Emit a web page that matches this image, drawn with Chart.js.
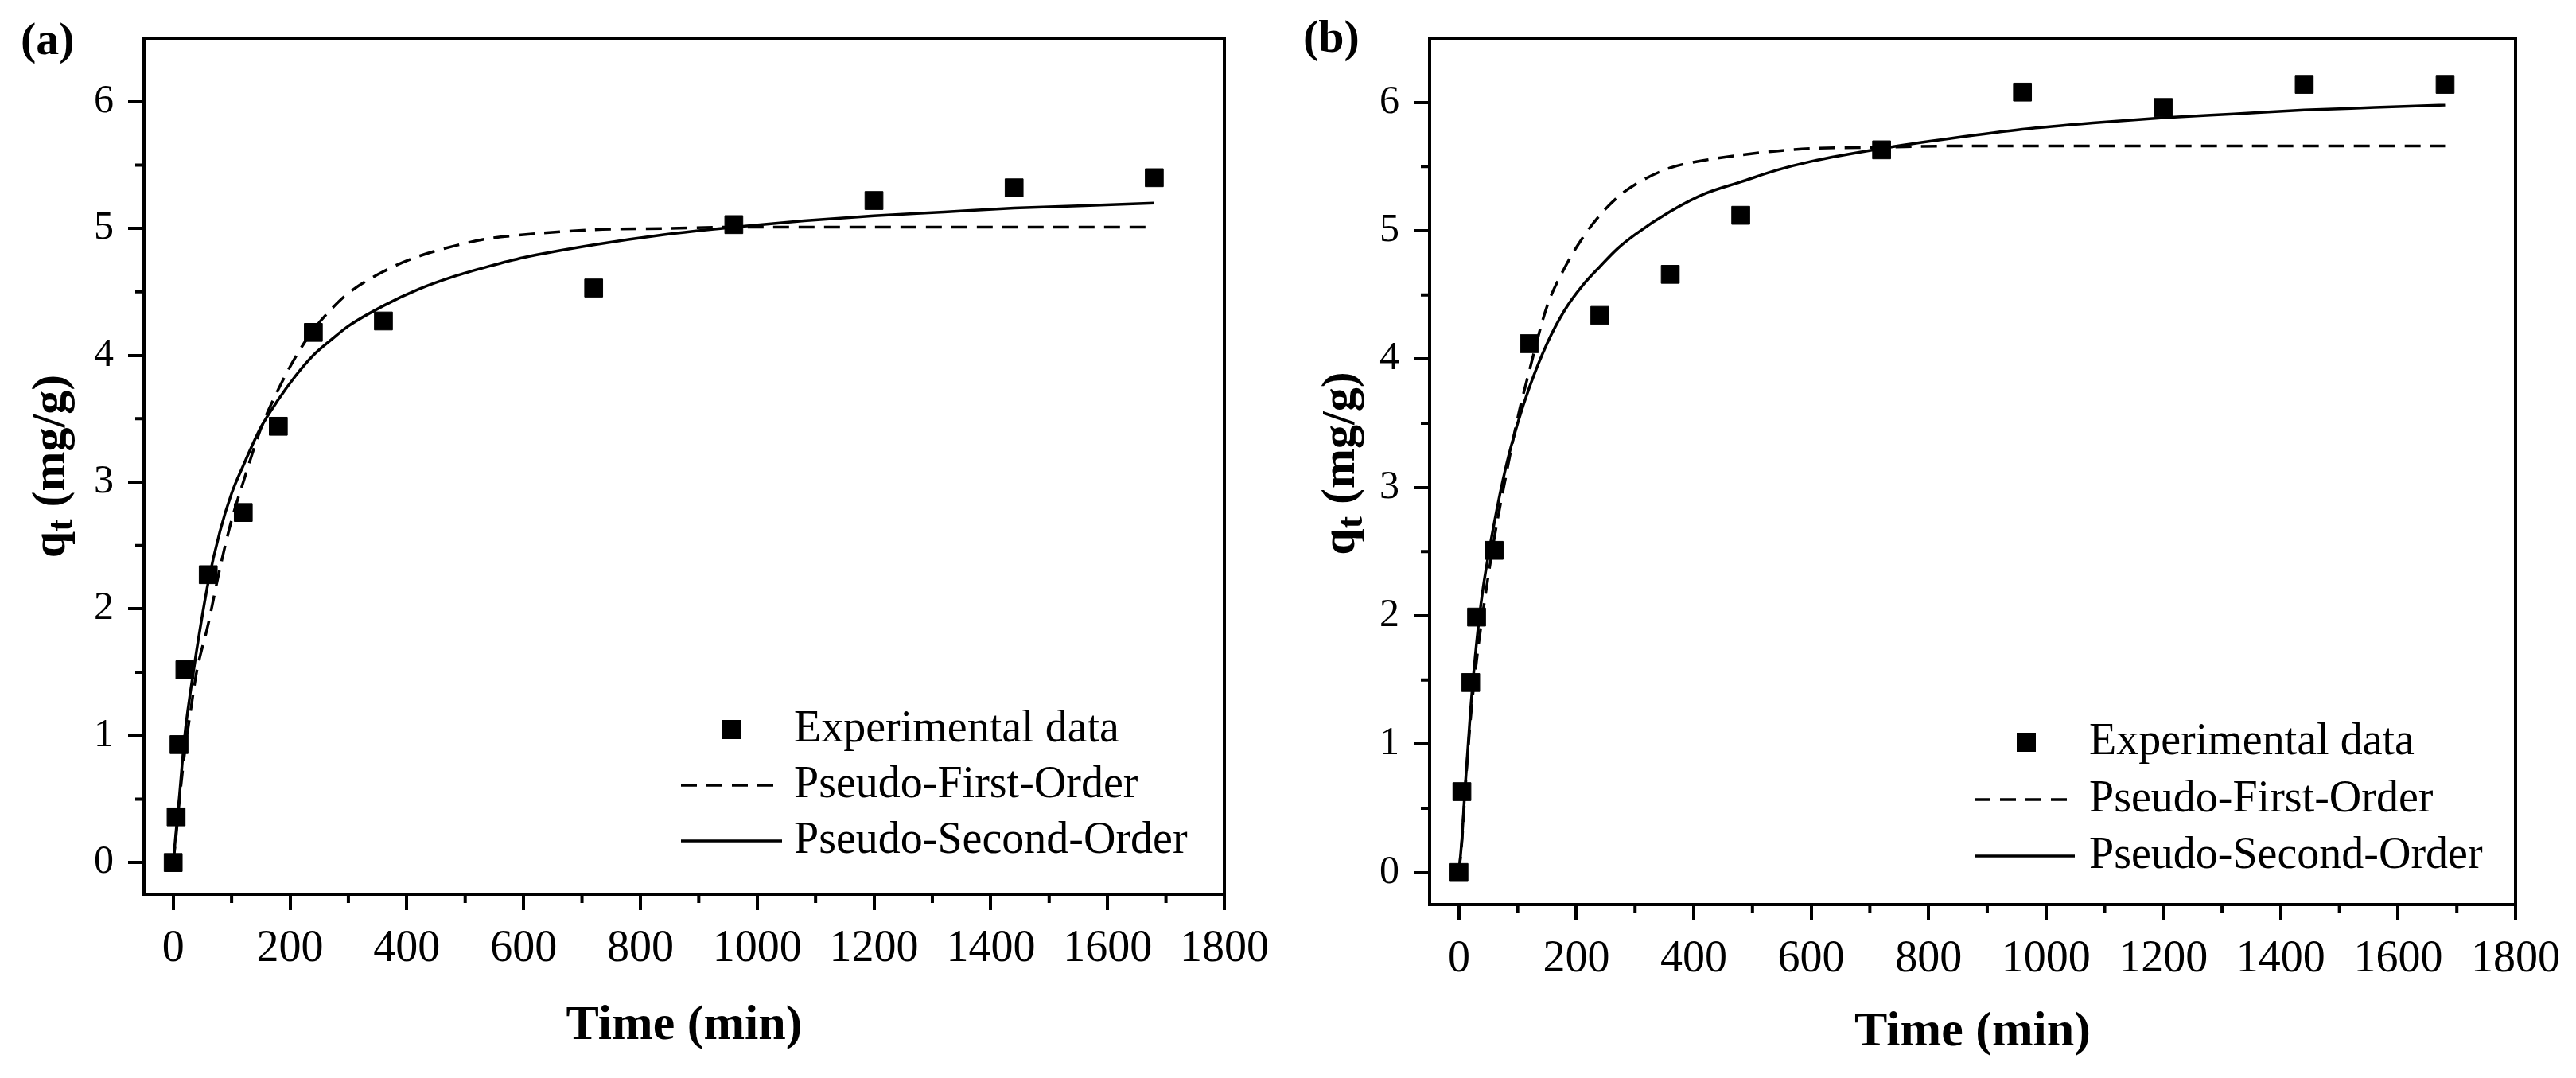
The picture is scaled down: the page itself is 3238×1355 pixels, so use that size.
<!DOCTYPE html>
<html>
<head>
<meta charset="utf-8">
<script src="https://cdn.jsdelivr.net/npm/chart.js@4.4.1/dist/chart.umd.min.js"></script>
<style>
html,body{margin:0;padding:0;background:#fff;}
#wrap{position:relative;width:3238px;height:1355px;overflow:hidden;background:#fff;}
.panel{position:absolute;top:0;height:1355px;}
#pa{left:0;width:1620px;}
#pb{left:1620px;width:1618px;}
</style>
</head>
<body>
<div id="wrap">
  <div class="panel" id="pa"><canvas id="ca"></canvas></div>
  <div class="panel" id="pb"><canvas id="cb"></canvas></div>
</div>
<script>
// ---------- data ----------
const xTickValues = [0, 200, 400, 600, 800, 1000, 1200, 1400, 1600, 1800];
const xMinorValues = [100, 300, 500, 700, 900, 1100, 1300, 1500, 1700];
const yTickValues = [0, 1, 2, 3, 4, 5, 6];
const yMinorValues = [0.5, 1.5, 2.5, 3.5, 4.5, 5.5];

const seriesLabels = ['Experimental data', 'Pseudo-First-Order', 'Pseudo-Second-Order'];

// panel (a)
const timeA = [0, 5, 10, 20, 60, 120, 180, 240, 360, 720, 960, 1200, 1440, 1680];
const qtA   = [0, 0.36, 0.93, 1.52, 2.27, 2.76, 3.44, 4.18, 4.27, 4.53, 5.03, 5.22, 5.32, 5.40];
// panel (b)
const timeB = [0, 5, 20, 30, 60, 120, 240, 360, 480, 720, 960, 1200, 1440, 1680];
const qtB   = [0, 0.63, 1.48, 1.99, 2.51, 4.12, 4.34, 4.66, 5.12, 5.63, 6.08, 5.96, 6.14, 6.14];

// fitted curves
const fitTime = [0, 5, 10, 20, 30, 40, 60, 80, 100, 120, 150, 180, 210, 240, 270, 300, 360, 420, 480, 540, 600, 720, 840, 960, 1080, 1200, 1320, 1440, 1560, 1680];
const pfoA = [0, 0.21, 0.46, 0.88, 1.20, 1.50, 1.88, 2.32, 2.70, 3.00, 3.42, 3.73, 3.99, 4.20, 4.36, 4.49, 4.66, 4.78, 4.86, 4.92, 4.95, 4.99, 5.00, 5.01, 5.01, 5.01, 5.01, 5.01, 5.01, 5.01];
const psoA = [0, 0.25, 0.49, 1.01, 1.36, 1.67, 2.21, 2.61, 2.91, 3.13, 3.43, 3.65, 3.84, 4.00, 4.12, 4.23, 4.39, 4.52, 4.62, 4.70, 4.77, 4.87, 4.95, 5.01, 5.06, 5.10, 5.13, 5.16, 5.18, 5.20];
const pfoB = [0, 0.24, 0.60, 1.21, 1.65, 2.00, 2.60, 3.09, 3.54, 3.91, 4.41, 4.71, 4.94, 5.12, 5.26, 5.36, 5.49, 5.55, 5.59, 5.62, 5.64, 5.65, 5.66, 5.66, 5.66, 5.66, 5.66, 5.66, 5.66, 5.66];
const psoB = [0, 0.26, 0.63, 1.28, 1.79, 2.18, 2.72, 3.16, 3.50, 3.78, 4.12, 4.38, 4.57, 4.72, 4.86, 4.97, 5.15, 5.29, 5.38, 5.47, 5.54, 5.64, 5.72, 5.79, 5.84, 5.88, 5.91, 5.94, 5.96, 5.98];

// ---------- helpers ----------
const SERIF = "'Liberation Serif','Times New Roman',Times,serif";
const toXY = (xs, ys) => xs.map((x, i) => ({x: x, y: ys[i]}));

const decorPlugin = {
  id: 'decor',
  afterDraw(chart, args, o) {
    const ctx = chart.ctx;
    const ca = chart.chartArea;
    const xs = chart.scales.x, ys = chart.scales.y;
    ctx.save();
    // frame top/right
    ctx.strokeStyle = '#000';
    ctx.lineWidth = 4;
    ctx.lineCap = 'square';
    ctx.beginPath();
    ctx.moveTo(ca.left, ca.top);
    ctx.lineTo(ca.right, ca.top);
    ctx.lineTo(ca.right, ca.bottom);
    ctx.stroke();
    // minor ticks
    ctx.lineCap = 'butt';
    ctx.beginPath();
    xMinorValues.forEach(v => {
      const px = xs.getPixelForValue(v);
      ctx.moveTo(px, ca.bottom); ctx.lineTo(px, ca.bottom + 11);
    });
    yMinorValues.forEach(v => {
      const py = ys.getPixelForValue(v);
      ctx.moveTo(ca.left, py); ctx.lineTo(ca.left - 11, py);
    });
    ctx.stroke();

    // y title with subscript
    ctx.fillStyle = '#000';
    ctx.translate(o.yTitleX, (ca.top + ca.bottom) / 2 + o.yTitleDY);
    ctx.rotate(-Math.PI / 2);
    const f1 = "bold 60px " + SERIF, f2 = "bold 46px " + SERIF;
    ctx.font = f1; const wq = ctx.measureText('q').width;
    ctx.font = f2; const wt = ctx.measureText('t').width;
    ctx.font = f1; const wr = ctx.measureText(' (mg/g)').width;
    let sx = -(wq + wt + wr) / 2;
    ctx.textBaseline = 'alphabetic';
    ctx.textAlign = 'left';
    const base = 20;
    ctx.font = f1; ctx.fillText('q', sx, base); sx += wq;
    ctx.font = f2; ctx.fillText('t', sx, base + 10); sx += wt;
    ctx.font = f1; ctx.fillText(' (mg/g)', sx, base);
    ctx.restore();

    // panel label
    ctx.save();
    ctx.fillStyle = '#000';
    ctx.font = "bold 58px " + SERIF;
    ctx.textBaseline = 'middle';
    ctx.textAlign = 'left';
    ctx.fillText(o.panel, o.panelX, o.panelY);

    // legend
    const ds = chart.data.datasets;
    ctx.font = "56px " + SERIF;
    o.rows.forEach((ry, i) => {
      const d = ds[i];
      if (i === 0) {
        ctx.fillStyle = '#000';
        ctx.fillRect(o.markX - 12, ry - 12, 24, 24);
      } else {
        ctx.strokeStyle = '#000';
        ctx.lineWidth = d.borderWidth;
        ctx.setLineDash(d.borderDash || []);
        ctx.beginPath();
        ctx.moveTo(o.lineX1, ry); ctx.lineTo(o.lineX2, ry);
        ctx.stroke();
        ctx.setLineDash([]);
      }
      ctx.fillStyle = '#000';
      ctx.fillText(d.label, o.textX, ry);
    });
    ctx.restore();
  }
};

function makeChart(canvasId, tData, qData, pfo, pso, L) {
  return new Chart(document.getElementById(canvasId), {
    type: 'scatter',
    data: {
      datasets: [
        {
          label: seriesLabels[0],
          data: toXY(tData, qData),
          pointStyle: 'rect',
          pointRadius: 16,
          pointHoverRadius: 16,
          backgroundColor: '#000',
          borderColor: '#000',
          borderWidth: 1,
          showLine: false,
          order: 0
        },
        {
          label: seriesLabels[1],
          data: toXY(fitTime, pfo),
          showLine: true,
          pointRadius: 0,
          borderColor: '#000',
          borderWidth: 3.5,
          borderDash: [20, 12],
          cubicInterpolationMode: 'monotone',
          fill: false,
          order: 1
        },
        {
          label: seriesLabels[2],
          data: toXY(fitTime, pso),
          showLine: true,
          pointRadius: 0,
          borderColor: '#000',
          borderWidth: 3.5,
          cubicInterpolationMode: 'monotone',
          fill: false,
          order: 2
        }
      ]
    },
    options: {
      responsive: true,
      maintainAspectRatio: false,
      animation: false,
      events: [],
      layout: { padding: { top: L.top, right: L.right, left: 0, bottom: 0 } },
      plugins: {
        legend: { display: false },
        tooltip: { enabled: false },
        title: { display: false },
        decor: L.decor
      },
      scales: {
        x: {
          type: 'linear',
          min: -50, max: 1800,
          afterBuildTicks: s => { s.ticks = xTickValues.map(v => ({value: v})); },
          afterFit: s => { s.height = L.xH; },
          ticks: {
            font: { family: SERIF, size: 56 },
            color: '#000',
            padding: L.xPad,
            maxRotation: 0,
            autoSkip: false,
            callback: v => String(v)
          },
          grid: {
            display: true, drawOnChartArea: false, drawTicks: true,
            tickLength: 20, tickWidth: 4, tickColor: '#000', color: '#000', lineWidth: 4
          },
          border: { display: true, color: '#000', width: 4 },
          title: {
            display: true, text: 'Time (min)', color: '#000',
            font: { family: SERIF, size: 62, weight: 'bold' },
            padding: { top: 0, bottom: L.titlePad }
          }
        },
        y: {
          type: 'linear',
          min: -0.25, max: 6.5,
          afterBuildTicks: s => { s.ticks = yTickValues.map(v => ({value: v})); },
          afterFit: s => { s.width = L.yW; },
          ticks: {
            font: { family: SERIF, size: 50 },
            color: '#000',
            padding: 18,
            autoSkip: false,
            callback: v => String(v)
          },
          grid: {
            display: true, drawOnChartArea: false, drawTicks: true,
            tickLength: 20, tickWidth: 4, tickColor: '#000', color: '#000', lineWidth: 4
          },
          border: { display: true, color: '#000', width: 4 },
          title: { display: false }
        }
      }
    },
    plugins: [decorPlugin]
  });
}

makeChart('ca', timeA, qtA, pfoA, psoA, {
  top: 32, right: 81, yW: 181, xH: 231, xPad: 16, titlePad: 28,
  decor: { panel: '(a)', panelX: 26, panelY: 53, yTitleX: 61, yTitleDY: 0,
           rows: [917, 987, 1057], markX: 920, lineX1: 856, lineX2: 983, textX: 998 }
});
makeChart('cb', timeB, qtB, pfoB, psoB, {
  top: 31, right: 76, yW: 177, xH: 218, xPad: 16, titlePad: 20,
  decor: { panel: '(b)', panelX: 18, panelY: 50, yTitleX: 62, yTitleDY: -10,
           rows: [933, 1005, 1076], markX: 927, lineX1: 862, lineX2: 988, textX: 1006 }
});
</script>
</body>
</html>
